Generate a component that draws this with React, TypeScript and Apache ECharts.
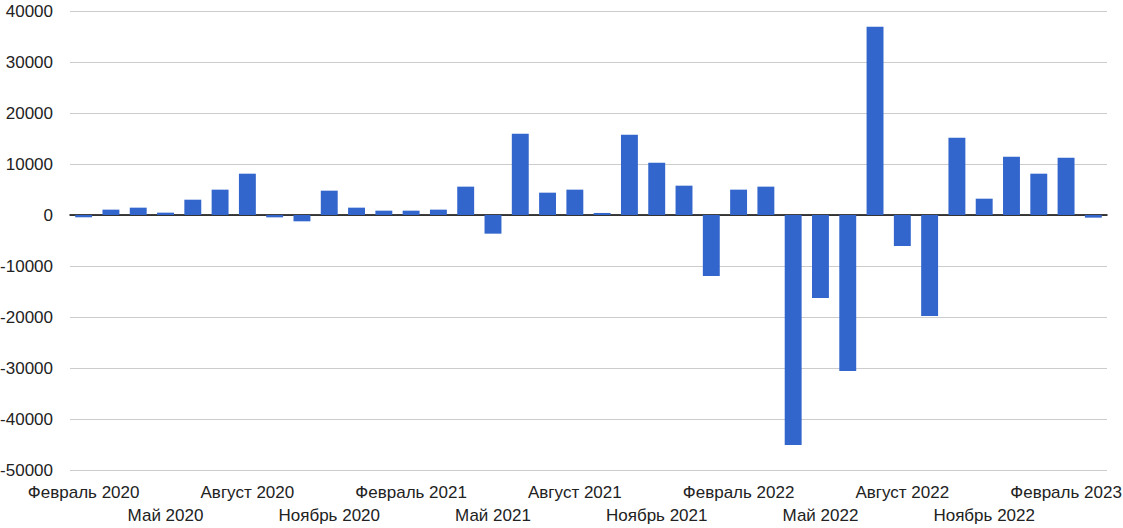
import React, { useEffect, useRef } from "react";
import * as echarts from "echarts";

const months = [
  "Февраль 2020", "Март 2020", "Апрель 2020", "Май 2020", "Июнь 2020", "Июль 2020",
  "Август 2020", "Сентябрь 2020", "Октябрь 2020", "Ноябрь 2020", "Декабрь 2020", "Январь 2021",
  "Февраль 2021", "Март 2021", "Апрель 2021", "Май 2021", "Июнь 2021", "Июль 2021",
  "Август 2021", "Сентябрь 2021", "Октябрь 2021", "Ноябрь 2021", "Декабрь 2021", "Январь 2022",
  "Февраль 2022", "Март 2022", "Апрель 2022", "Май 2022", "Июнь 2022", "Июль 2022",
  "Август 2022", "Сентябрь 2022", "Октябрь 2022", "Ноябрь 2022", "Декабрь 2022", "Январь 2023",
  "Февраль 2023", "Март 2023",
];

const values = [
  -450, 1050, 1440, 460, 3000, 4970, 8100, -460, -1240, 4770, 1440, 850,
  850, 1050, 5560, -3660, 15950, 4380, 4970, 400, 15750, 10260, 5750, -11960,
  4970, 5560, -45100, -16270, -30590, 36930, -6080, -19800, 15160, 3200, 11440, 8100,
  11240, -520,
];

const yMin = -50000;
const yMax = 40000;
const yStep = 10000;

const labelFont = {
  fontFamily: "Liberation Sans, Arial, sans-serif",
  fontSize: 17,
  color: "#222",
};

export default function App() {
  const ref = useRef<HTMLDivElement>(null);
  useEffect(() => {
    if (!ref.current) return;
    const chart = echarts.init(ref.current, null, { renderer: "svg" });
    chart.setOption({
      animation: false,
      grid: {
        left: 70, right: 16, top: 11, bottom: 58,
        containLabel: false,
        outerBoundsMode: "none",
      },
      xAxis: [
        {
          type: "category",
          data: months,
          position: "bottom",
          axisLine: { onZero: true, lineStyle: { color: "#000", width: 1.5 } },
          axisTick: { show: false },
          axisLabel: {
            interval: (i: number) => i % 6 === 0,
            hideOverlap: false,
            showMinLabel: true,
            showMaxLabel: true,
            margin: 14,
            ...labelFont,
          },
        },
        {
          type: "category",
          data: months,
          position: "bottom",
          offset: 23,
          axisLine: { show: false, onZero: false },
          axisTick: { show: false },
          splitLine: { show: false },
          axisLabel: {
            interval: (i: number) => i % 6 === 3,
            hideOverlap: false,
            showMinLabel: true,
            showMaxLabel: true,
            margin: 14,
            ...labelFont,
          },
        },
      ],
      yAxis: {
        type: "value",
        min: yMin,
        max: yMax,
        interval: yStep,
        axisLine: { show: false },
        axisTick: { show: false },
        splitLine: { lineStyle: { color: "#cccccc", width: 1 } },
        axisLabel: {
          margin: 17,
          ...labelFont,
          formatter: (v: number) => String(v),
        },
      },
      series: [
        {
          type: "bar",
          xAxisIndex: 0,
          data: values,
          barCategoryGap: "38%",
          itemStyle: { color: "#3366cc" },
        },
      ],
    });
    return () => chart.dispose();
  }, []);
  return (
    <div
      ref={ref}
      style={{ position: "fixed", left: 0, top: 0, width: 1123, height: 528, background: "#fff" }}
    />
  );
}
